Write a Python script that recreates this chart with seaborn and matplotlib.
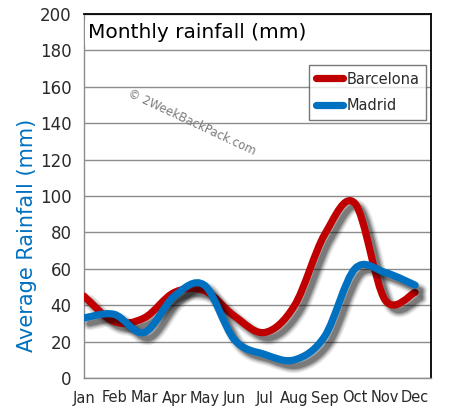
import numpy as np
import matplotlib
matplotlib.use("Agg")
import matplotlib.pyplot as plt
import matplotlib.patheffects as pe
from matplotlib.path import Path
from matplotlib.patches import PathPatch
from matplotlib.lines import Line2D
import seaborn as sns

months = ["Jan", "Feb", "Mar", "Apr", "May", "Jun",
          "Jul", "Aug", "Sep", "Oct", "Nov", "Dec"]
barcelona = [45, 31, 33, 47, 48, 34, 25, 40, 79, 96, 43, 47]
madrid = [33, 35, 25, 45, 51, 21, 13, 10, 23, 60, 58, 51]
y_ticks = list(range(0, 201, 20))

RED = "#c00000"
BLUE = "#0070c0"
GRID = "#8c8c8c"

sns.set_style("white")
plt.rcParams["font.family"] = ["DejaVu Sans"]


def smooth_path(xs, ys):
    # catmull-rom segments turned into cubic bezier curves (like Excel "smoothed line")
    pts = np.column_stack([xs, ys]).astype(float)
    ext = np.vstack([pts[0], pts, pts[-1]])
    verts = [pts[0]]
    codes = [Path.MOVETO]
    for i in range(1, len(ext) - 2):
        p0, p1, p2, p3 = ext[i - 1], ext[i], ext[i + 1], ext[i + 2]
        verts += [p1 + (p2 - p0) / 6, p2 - (p3 - p1) / 6, p2]
        codes += [Path.CURVE4] * 3
    return Path(verts, codes)


# soft drop shadow, a few stacked layers fake the blur
off = (4, -4)
shadow = [
    pe.SimpleLineShadow(offset=off, shadow_color="#000000", alpha=0.08, linewidth=10),
    pe.SimpleLineShadow(offset=off, shadow_color="#000000", alpha=0.12, linewidth=8),
    pe.SimpleLineShadow(offset=off, shadow_color="#000000", alpha=0.2, linewidth=6),
    pe.SimpleLineShadow(offset=off, shadow_color="#000000", alpha=0.25, linewidth=4),
    pe.Normal(),
]

fig = plt.figure(figsize=(4.51, 4.18), dpi=100)
ax = fig.add_axes([84 / 451, 40 / 418, 347 / 451, 364 / 418])

x = np.arange(len(months))
for vals, col in [(barcelona, RED), (madrid, BLUE)]:
    patch = PathPatch(smooth_path(x, vals), fill=False, edgecolor=col,
                      linewidth=5.2, capstyle="round", joinstyle="round",
                      path_effects=shadow, zorder=3)
    ax.add_patch(patch)

ax.set_xlim(0, 11.53)
ax.set_ylim(0, 200)
ax.set_xticks(x)
ax.set_xticklabels(months, fontsize=10.5, color="#2a2a2a")
ax.set_yticks(y_ticks)
ax.set_yticklabels([str(v) for v in y_ticks], fontsize=12, color="#2a2a2a")
ax.tick_params(axis="both", length=5, width=1, color=GRID, pad=4)
ax.grid(axis="y", color=GRID, linewidth=1)
ax.set_axisbelow(True)

for side in ["left", "bottom"]:
    ax.spines[side].set_color(GRID)
    ax.spines[side].set_linewidth(1)
for side in ["right", "top"]:
    ax.spines[side].set_color("black")
    ax.spines[side].set_linewidth(1.3)

ax.text(0.012, 0.975, "Monthly rainfall (mm)", transform=ax.transAxes,
        fontsize=14.5, color="black", ha="left", va="top",
        bbox=dict(facecolor="white", edgecolor="none", pad=2), zorder=4)

ax.text(0.311, 0.703, "\u00a9 2WeekBackPack.com", transform=ax.transAxes,
        fontsize=8.5, color="#7a7a7a", rotation=-25, ha="center", va="center",
        zorder=2)

fig.text(27 / 451, 1 - 235 / 418, "Average Rainfall (mm)", rotation=90,
         fontsize=15, color=BLUE, ha="center", va="center")

handles = [Line2D([], [], color=RED, linewidth=5.2, solid_capstyle="round"),
           Line2D([], [], color=BLUE, linewidth=5.2, solid_capstyle="round")]
leg = ax.legend(handles, ["Barcelona", "Madrid"], loc="upper right",
                bbox_to_anchor=(0.985, 0.86), frameon=True, fancybox=False,
                fontsize=10.5, handlelength=1.9, handletextpad=0.2,
                borderpad=0.45, labelspacing=0.8, borderaxespad=0)
leg.get_frame().set_edgecolor("#555555")
leg.get_frame().set_linewidth(1)
for t in leg.get_texts():
    t.set_color("#2a2a2a")

fig.savefig("out.png", dpi=100)
